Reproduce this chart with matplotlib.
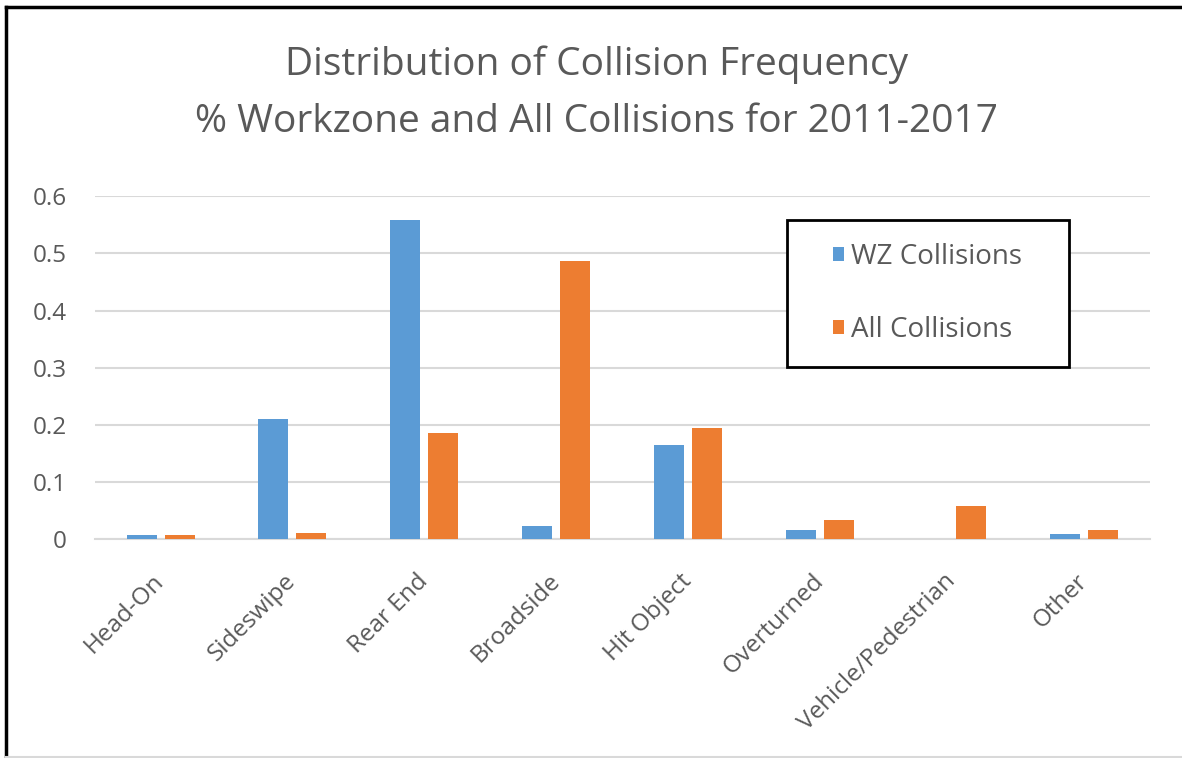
import matplotlib.pyplot as plt
from matplotlib.lines import Line2D
from matplotlib.patches import Rectangle
import numpy as np

categories = ['Head-On', 'Sideswipe', 'Rear End', 'Broadside', 'Hit Object',
              'Overturned', 'Vehicle/Pedestrian', 'Other']
wz_collisions = [0.007, 0.210, 0.559, 0.023, 0.164, 0.016, 0.0, 0.009]
all_collisions = [0.007, 0.011, 0.185, 0.486, 0.194, 0.033, 0.058, 0.016]
yticks = [0, 0.1, 0.2, 0.3, 0.4, 0.5, 0.6]
ytick_labels = ['0', '0.1', '0.2', '0.3', '0.4', '0.5', '0.6']

plt.rcParams['font.family'] = ['Open Sans', 'DejaVu Sans']
text_color = '#595959'

fig = plt.figure(figsize=(11.82, 7.58), dpi=100)
ax = fig.add_axes([0.080, 0.289, 0.893, 0.452])

x = np.arange(len(categories))
w = 0.227
ax.bar(x - 0.144, wz_collisions, w, color='#5b9bd5', label='WZ Collisions', zorder=3)
ax.bar(x + 0.144, all_collisions, w, color='#ed7d31', label='All Collisions', zorder=3)

ax.set_xlim(-0.5, len(categories) - 0.5)
ax.set_ylim(0, 0.6)
ax.set_yticks(yticks)
ax.set_yticklabels(ytick_labels, fontsize=17.5, color=text_color)
ax.set_xticks(x)
ax.set_xticklabels(categories, fontsize=17.5, color=text_color, rotation=45,
                   ha='right', va='center', rotation_mode='anchor')
for lbl in ax.get_xticklabels():
    lbl.set_x(lbl.get_position()[0])
ax.tick_params(axis='x', length=0, pad=28)
ax.tick_params(axis='y', length=0, pad=20)
ax.grid(axis='y', color='#d9d9d9', linewidth=1.5, zorder=0)
for s in ['top', 'right', 'left']:
    ax.spines[s].set_visible(False)
ax.spines['bottom'].set_color('#d9d9d9')
ax.spines['bottom'].set_linewidth(1.5)

fig.text(0.505, 0.914, 'Distribution of Collision Frequency', ha='center', va='center',
         fontsize=28, color=text_color)
fig.text(0.505, 0.839, '% Workzone and All Collisions for 2011-2017', ha='center',
         va='center', fontsize=28, color=text_color)

# legend box drawn separately so the entries sit centred inside it
ax.add_patch(Rectangle((0.656, 0.501), 0.267, 0.4286, transform=ax.transAxes,
                       facecolor='white', edgecolor='black', linewidth=2, zorder=4))
leg = ax.legend(loc='center', bbox_to_anchor=(0.7895, 0.716), fontsize=20,
                frameon=False, labelspacing=1.6, handlelength=0.4, handleheight=0.4,
                handletextpad=0.25, borderpad=0)
leg.set_zorder(5)
for t in leg.get_texts():
    t.set_color(text_color)

fig.add_artist(Line2D([0.005, 0.005], [0.0, 0.991], transform=fig.transFigure,
                      color='black', linewidth=2.5))
fig.add_artist(Line2D([0.005, 1.0], [0.991, 0.991], transform=fig.transFigure,
                      color='black', linewidth=2.5))
fig.add_artist(Line2D([0.005, 1.0], [0.001, 0.001], transform=fig.transFigure,
                      color='#d9d9d9', linewidth=1.5))

fig.savefig('out.png', dpi=100)
